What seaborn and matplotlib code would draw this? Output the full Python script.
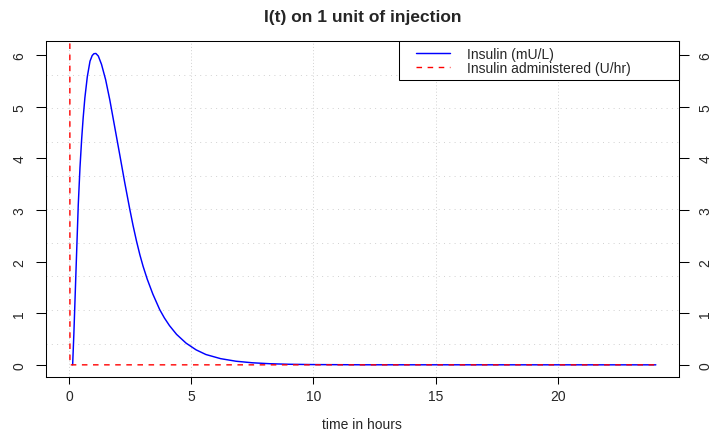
import matplotlib
matplotlib.use("Agg")
import matplotlib.pyplot as plt
from matplotlib.patches import Rectangle
import numpy as np
import pandas as pd
import seaborn as sns

# ---- data ----
t_insulin = [0.15, 0.2, 0.24, 0.3, 0.38, 0.45, 0.52, 0.58, 0.65, 0.75, 0.86, 0.95, 1.02,
             1.1, 1.2, 1.33, 1.5, 1.67, 1.85, 2.08, 2.28, 2.48, 2.62, 2.76, 2.9, 3.03,
             3.2, 3.43, 3.71, 3.9, 4.11, 4.4, 4.79, 5.2, 5.6, 6.2, 6.83, 7.5, 8.2,
             9.0, 10.0, 12.0, 24.0]
insulin = [0.0, 0.6, 1.16, 2.0, 3.1, 3.82, 4.38, 4.78, 5.17, 5.58, 5.88, 5.99, 6.025,
           6.03, 5.98, 5.82, 5.52, 5.13, 4.66, 4.06, 3.53, 3.03, 2.7, 2.4, 2.13, 1.91,
           1.66, 1.37, 1.07, 0.91, 0.76, 0.59, 0.42, 0.29, 0.2, 0.12, 0.07, 0.04, 0.022,
           0.011, 0.005, 0.001, 0.0]
t_admin = [0.0, 0.04, 24.0]
admin = [60.0, 0.0, 0.0]

x_ticks = [0, 5, 10, 15, 20]
y_ticks = [0, 1, 2, 3, 4, 5, 6]
title = "I(t) on 1 unit of injection"
xlabel = "time in hours"
label_insulin = "Insulin (mU/L)"
label_admin = "Insulin administered (U/hr)"

df_ins = pd.DataFrame({"t": t_insulin, "v": insulin})
df_adm = pd.DataFrame({"t": t_admin, "v": admin})

# ---- style ----
sns.set_style("white")
plt.rcParams["font.family"] = ["Liberation Sans", "DejaVu Sans"]
plt.rcParams["lines.scale_dashes"] = True

W, H = 714, 431
fig = plt.figure(figsize=(W / 100, H / 100), dpi=100)
L, R, T, B = 45.5, 679.3, 42.0, 378.3
ax = fig.add_axes([L / W, (H - B) / H, (R - L) / W, (B - T) / H])

lw = 0.72  # ~1 px
sns.lineplot(data=df_ins, x="t", y="v", ax=ax, color="#0000FF", linewidth=1.05,
             estimator=None, sort=False, label=label_insulin, zorder=3)
sns.lineplot(data=df_adm, x="t", y="v", ax=ax, color="#FF0000", linewidth=1.0,
             estimator=None, sort=False, label=label_admin, zorder=4,
             linestyle=(0, (4, 4)))

# R-like axis limits (4% extension of the insulin curve range)
xmin, xmax = min(t_insulin + t_admin), max(t_insulin + t_admin)
ymin, ymax = min(insulin), max(insulin)
dx, dy = 0.04 * (xmax - xmin), 0.04 * (ymax - ymin)
ax.set_xlim(xmin - dx, xmax + dx)
ax.set_ylim(ymin - dy, ymax + dy)

# grid: vertical at x ticks, horizontal at 10 equal cells
for xv in x_ticks:
    ax.axvline(xv, color="#D3D3D3", linewidth=lw, linestyle=(0, (1, 2.2)), zorder=1)
y0, y1 = ax.get_ylim()
for k in range(1, 10):
    ax.axhline(y0 + k * (y1 - y0) / 10, color="#D3D3D3", linewidth=lw,
               linestyle=(0, (1, 4.3)), zorder=1)

fsz = 10
ax.set_xticks(x_ticks)
ax.set_yticks(y_ticks)
ax.set_xticklabels([str(v) for v in x_ticks])
ax.set_yticklabels([str(v) for v in y_ticks])
ax.tick_params(axis="x", direction="out", length=5.0, width=0.75, color="black",
               labelsize=fsz, pad=3.5, bottom=True)
ax.tick_params(axis="y", direction="out", length=7.2, width=0.75, color="black",
               labelsize=fsz, pad=6.5, left=True, right=True, labelright=True,
               labelrotation=90)
for lab in ax.get_yticklabels():
    lab.set_va("center")
for s in ax.spines.values():
    s.set_visible(True)
    s.set_color("black")
    s.set_linewidth(0.75)

ax.set_xlabel(xlabel, fontsize=fsz)
ax.xaxis.set_label_coords(0.5, (B - 418.0) / (B - T))
ax.set_ylabel("")
ax.set_title(title, fontsize=12.5, fontweight="bold", pad=14.4)

# legend with R-like box in the top-right corner
handles, labels = ax.get_legend_handles_labels()
frame = Rectangle(((399 - L) / (R - L), (B - 80.5) / (B - T)),
                  1 - (399 - L) / (R - L), 1 - (B - 80.5) / (B - T),
                  transform=ax.transAxes, facecolor="white", edgecolor="black",
                  linewidth=0.75, zorder=5, clip_on=False)
ax.add_patch(frame)
fs = fsz * 100 / 72
leg = ax.legend(handles, labels, loc="center left",
                bbox_to_anchor=(416 / W, 1 - 61.7 / H), bbox_transform=fig.transFigure,
                frameon=False, borderpad=0, borderaxespad=0,
                handlelength=34 / fs, handletextpad=17 / fs, labelspacing=-0.02,
                fontsize=fsz)
leg.set_zorder(6)

fig.savefig("out.png", dpi=100)
